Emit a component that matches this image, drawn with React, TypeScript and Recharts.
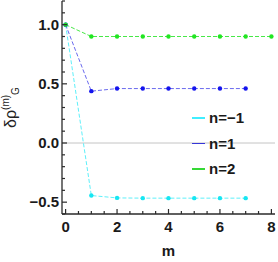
import {
  LineChart,
  Line,
  XAxis,
  YAxis,
  Tooltip,
  ReferenceLine,
  Legend,
} from "recharts";

const mValues = [0, 1, 2, 3, 4, 5, 6, 7, 8];
const nMinus1 = [1.0, -0.444, -0.464, -0.466, -0.466, -0.466, -0.466, -0.466];
const nOne = [1.0, 0.438, 0.46, 0.46, 0.46, 0.46, 0.46, 0.46];
const nTwo = [1.0, 0.9, 0.9, 0.9, 0.9, 0.9, 0.9, 0.9, 0.9];

const xMajor = [0, 2, 4, 6, 8];
const xTicks = [0, 0.5, 1, 1.5, 2, 2.5, 3, 3.5, 4, 4.5, 5, 5.5, 6, 6.5, 7, 7.5, 8];
const yMajor = [-0.5, 0, 0.5, 1.0];
const yTicks = [-0.6, -0.5, -0.4, -0.3, -0.2, -0.1, 0, 0.1, 0.2, 0.3, 0.4, 0.5, 0.6, 0.7, 0.8, 0.9, 1.0, 1.1, 1.2];

const series = [
  { key: "nm1", name: "n=\u22121", color: "#16e6f2", line: "#5ef0fa", legend: "#40eeff" },
  { key: "n1", name: "n=1", color: "#1414ee", line: "#6a6aee", legend: "#3636d8" },
  { key: "n2", name: "n=2", color: "#22e622", line: "#48e848", legend: "#36d836" },
];

const data = mValues.map((m, i) => ({
  m,
  nm1: nMinus1[i],
  n1: nOne[i],
  n2: nTwo[i],
}));

const FONT = "'Liberation Sans', Arial, sans-serif";
const X_DOMAIN: [number, number] = [-0.14, 8.14];
const Y_DOMAIN: [number, number] = [-0.6, 1.2];
const FRAME = "#2a2a2a";

const isMajor = (list: number[], v: number) => list.some((t) => Math.abs(t - v) < 1e-6);

function fmtY(v: number) {
  const s = Math.abs(v).toFixed(1);
  return v < 0 ? `\u2212${s}` : s;
}

// tick marks point inwards, labels sit outside the frame
function BottomTick({ x, y, payload }: any) {
  const major = isMajor(xMajor, payload.value);
  return (
    <g>
      <line x1={x} x2={x} y1={y} y2={y - (major ? 5 : 3)} stroke={FRAME} strokeWidth={1.2} />
      {major && (
        <text x={x} y={y + 7} dy="0.71em" textAnchor="middle" fontFamily={FONT} fontSize={15} fontWeight="bold" fill="#1a1a1a">
          {payload.value}
        </text>
      )}
    </g>
  );
}

function TopTick({ x, y, payload }: any) {
  const major = isMajor(xMajor, payload.value);
  return <line x1={x} x2={x} y1={y} y2={y + (major ? 5 : 3)} stroke={FRAME} strokeWidth={1.2} />;
}

function LeftTick({ x, y, payload }: any) {
  const major = isMajor(yMajor, payload.value);
  return (
    <g>
      <line x1={x} x2={x + (major ? 5 : 3)} y1={y} y2={y} stroke={FRAME} strokeWidth={1.2} />
      {major && (
        <text x={x - 3} y={y} dy="0.355em" textAnchor="end" fontFamily={FONT} fontSize={15} fontWeight="bold" fill="#1a1a1a">
          {fmtY(payload.value)}
        </text>
      )}
    </g>
  );
}

function RightTick({ x, y, payload }: any) {
  const major = isMajor(yMajor, payload.value);
  return <line x1={x} x2={x - (major ? 5 : 3)} y1={y} y2={y} stroke={FRAME} strokeWidth={1.2} />;
}

function YLabel(props: any) {
  const vb = props.viewBox || {};
  const cx = 16;
  const cy = (vb.y ?? 1) + (vb.height ?? 213) / 2;
  return (
    <text
      x={cx}
      y={cy}
      transform={`rotate(-90 ${cx} ${cy})`}
      textAnchor="middle"
      fontFamily={FONT}
      fill="#222"
    >
      <tspan fontSize={16}>δρ</tspan>
      <tspan fontSize={10} dy={-7}>(m)</tspan>
      <tspan fontSize={10} dy={10}>G</tspan>
    </text>
  );
}

function XLabel(props: any) {
  const vb = props.viewBox || {};
  return (
    <text
      x={(vb.x ?? 62) + (vb.width ?? 213) / 2}
      y={256}
      textAnchor="middle"
      fontFamily={FONT}
      fontWeight="bold"
      fontSize={15}
      fill="#1a1a1a"
    >
      m
    </text>
  );
}

function LegendBox() {
  return (
    <div style={{ fontFamily: FONT }}>
      {series.map((s) => (
        <div
          key={s.key}
          style={{ display: "flex", alignItems: "center", height: 25.5 }}
        >
          <div style={{ width: 13, height: 1.5, background: s.legend, marginRight: 4 }} />
          <span style={{ fontSize: 15, fontWeight: "bold", color: "#1a1a1a" }}>{s.name}</span>
        </div>
      ))}
    </div>
  );
}

export default function App() {
  return (
    <div style={{ position: "absolute", left: 0, top: 0, background: "#fff" }}>
      <LineChart
        width={278}
        height={262}
        data={data}
        margin={{ top: 1, right: 3, left: 0, bottom: 0 }}
      >
        <ReferenceLine y={0} stroke="#c4c4c4" strokeWidth={1} />
        <XAxis
          dataKey="m"
          type="number"
          domain={X_DOMAIN}
          ticks={xTicks}
          interval={0}
          allowDataOverflow
          height={48}
          tickLine={false}
          tickSize={0}
          tickMargin={0}
          axisLine={{ stroke: FRAME, strokeWidth: 1.3 }}
          tick={<BottomTick />}
          label={<XLabel />}
        />
        <YAxis
          type="number"
          domain={Y_DOMAIN}
          ticks={yTicks}
          interval={0}
          allowDataOverflow
          width={62}
          tickLine={false}
          tickSize={0}
          tickMargin={0}
          axisLine={{ stroke: FRAME, strokeWidth: 1.3 }}
          tick={<LeftTick />}
          label={<YLabel />}
        />
        <XAxis
          xAxisId="top"
          orientation="top"
          type="number"
          domain={X_DOMAIN}
          ticks={xTicks}
          interval={0}
          allowDataOverflow
          height={0}
          tickLine={false}
          tickSize={0}
          tickMargin={0}
          axisLine={{ stroke: FRAME, strokeWidth: 1.3 }}
          tick={<TopTick />}
        />
        <YAxis
          yAxisId="right"
          orientation="right"
          type="number"
          domain={Y_DOMAIN}
          ticks={yTicks}
          interval={0}
          allowDataOverflow
          width={0}
          tickLine={false}
          tickSize={0}
          tickMargin={0}
          axisLine={{ stroke: FRAME, strokeWidth: 1.3 }}
          tick={<RightTick />}
        />

        <Tooltip />
        <Legend
          layout="vertical"
          align="center"
          verticalAlign="middle"
          content={<LegendBox />}
          wrapperStyle={{ position: "absolute", left: 192, top: 105, width: 84 }}
        />

        {series.map((s) => (
          <Line
            key={s.key}
            type="linear"
            dataKey={s.key}
            name={s.name}
            stroke={s.line}
            strokeWidth={1}
            strokeDasharray="4 2"
            dot={{ r: 2.2, fill: s.color, stroke: "none" }}
            activeDot={false}
            isAnimationActive={false}
          />
        ))}
      </LineChart>
    </div>
  );
}
